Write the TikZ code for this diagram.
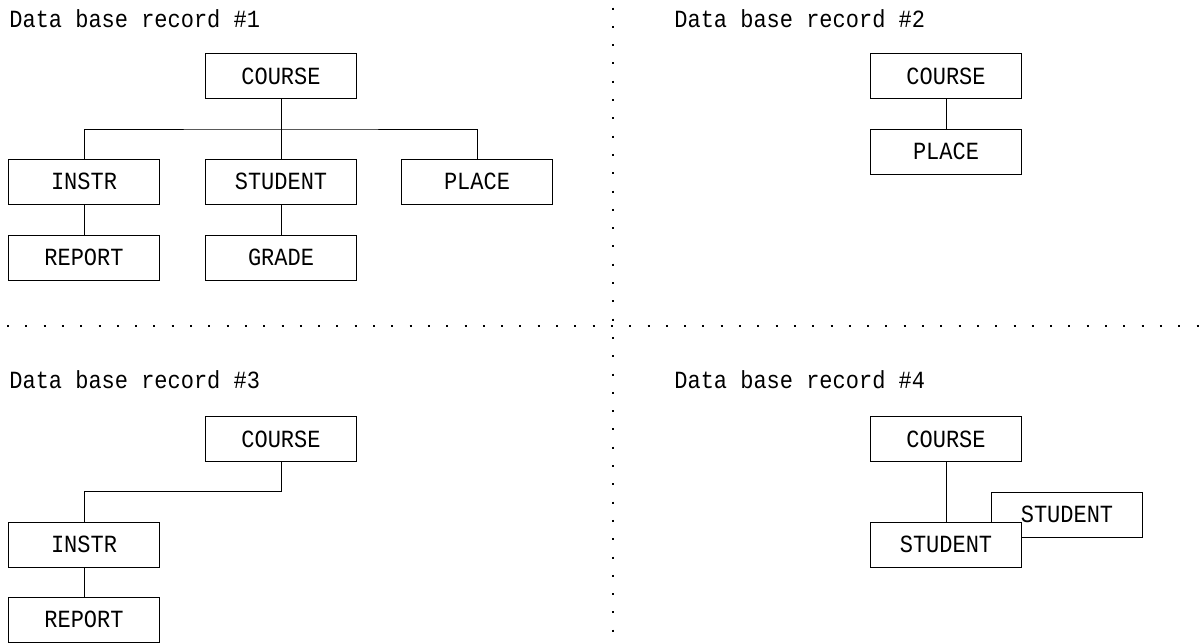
\documentclass[tikz,border=0pt]{standalone}
\usepackage{fontspec}
\setmonofont[FakeStretch=0.89]{Liberation Mono}
\newcommand{\recfont}{\ttfamily\fontsize{12.35}{14}\selectfont}
\tikzset{
	segbox/.style={draw,fill=white,line width=0.5pt,minimum width=75.5pt,minimum height=22.5pt,inner sep=0pt},
	segline/.style={line width=0.5pt},
	dotline/.style={line width=1pt,dash pattern=on 1pt off 8.15pt},
	rectitle/.style={anchor=base west,inner sep=0pt}
}
\begin{document}
\begin{tikzpicture}[x=0.5pt,y=-0.5pt,font=\recfont]
			\useasboundingbox (0,0) rectangle (1200,643);
			%Dotted separators
			\coordinate (hsepL) at (7,325.7);
			\coordinate (hsepR) at (1200,325.7);
			\coordinate (vsepT) at (613.3,7.5);
			\coordinate (vsepB) at (613.3,643);
			\draw [dotline] (hsepL) -- (hsepR);
			\draw [dotline] (vsepT) -- (vsepB);
			%Titles
			\node [rectitle] (title1) at (9,27) {Data base record \#1};
			\node [rectitle] (title2) at (674,27) {Data base record \#2};
			\node [rectitle] (title3) at (9,388) {Data base record \#3};
			\node [rectitle] (title4) at (674,388) {Data base record \#4};
			%Record 1
			\node [segbox] (r1course) at (281,76) {COURSE};
			\node [segbox] (r1instr) at (84,181.5) {INSTR};
			\node [segbox] (r1student) at (281,181.5) {STUDENT};
			\node [segbox] (r1place) at (477,181.5) {PLACE};
			\node [segbox] (r1report) at (84,257.5) {REPORT};
			\node [segbox] (r1grade) at (281,257.5) {GRADE};
			\coordinate (r1bus) at (281,129);
			\draw [segline] (r1course) -- (r1student);
			\draw [segline] (r1instr.north) |- (r1bus) -| (r1place.north);
			\draw [segline] (r1instr) -- (r1report);
			\draw [segline] (r1student) -- (r1grade);
			%Record 2
			\node [segbox] (r2course) at (946,76) {COURSE};
			\node [segbox] (r2place) at (946,151.5) {PLACE};
			\draw [segline] (r2course) -- (r2place);
			%Record 3
			\node [segbox] (r3course) at (281,439) {COURSE};
			\node [segbox] (r3instr) at (84,544.5) {INSTR};
			\node [segbox] (r3report) at (84,619.5) {REPORT};
			\coordinate (r3bend) at (84,491);
			\draw [segline] (r3course.south) |- (r3bend) -- (r3instr.north);
			\draw [segline] (r3instr) -- (r3report);
			%Record 4 (second STUDENT behind the first)
			\node [segbox] (r4course) at (946,439) {COURSE};
			\node [segbox] (r4studentb) at (1067,514.5) {STUDENT};
			\node [segbox] (r4student) at (946,544.5) {STUDENT};
			\draw [segline] (r4course) -- (r4student);
\end{tikzpicture}
\end{document}
